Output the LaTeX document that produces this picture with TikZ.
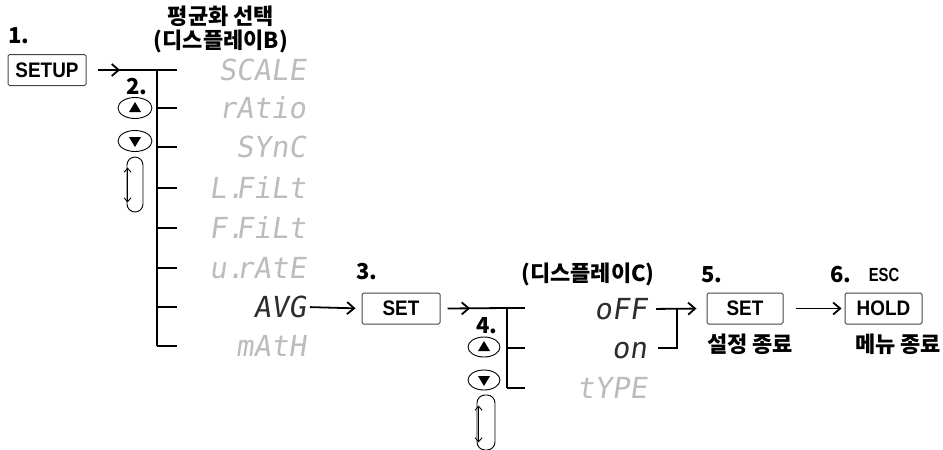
\documentclass[tikz,border=0pt]{standalone}
\usepackage{fontspec}
\usetikzlibrary{arrows.meta,shapes.geometric,decorations.markings}
\newfontfamily\krfont{Noto Sans CJK KR}
\newfontfamily\boxfont{Liberation Sans}[FakeStretch=0.9]
\newfontfamily\escfont{Liberation Sans}[FakeStretch=0.78]
\newfontfamily\segfont{DejaVu Sans Mono}[FakeSlant=0.15]
\definecolor{segdim}{RGB}{188,188,188}
\definecolor{segdark}{RGB}{45,45,45}
\definecolor{boxline}{RGB}{70,70,70}
\tikzset{
  keybox/.style={draw=boxline, rounded corners=1.5pt, line width=1pt, minimum height=31pt,
    inner sep=0pt, font=\boxfont\bfseries\fontsize{21}{21}\selectfont},
  steplbl/.style={font=\krfont\bfseries\fontsize{22}{22}\selectfont, inner sep=0pt},
  krlbl/.style={font=\krfont\bfseries\fontsize{22}{24}\selectfont, inner sep=0pt, align=center},
  seg/.style={font=\segfont\fontsize{29}{29}\selectfont, anchor=east, inner sep=0pt,
    text height=21pt, text depth=0pt, text=segdim},
  segon/.style={seg, text=segdark},
  trunk/.style={line width=2.5pt},
  twig/.style={line width=1.1pt},
  flowline/.style={line width=1.8pt},
  tipA/.style={-{Straight Barb[length=7pt,width=12pt]}},
  midtip/.style={postaction={decorate}, decoration={markings,
      mark=at position #1 with {\arrow{Straight Barb[length=7pt,width=12pt]}}}},
  btn/.style={draw, ellipse, line width=0.9pt, minimum width=34pt, minimum height=21pt, inner sep=0pt},
  ovalkey/.style={draw, rounded corners=8pt, line width=0.9pt, minimum width=16pt, minimum height=55pt, inner sep=0pt},
  dbl/.style={line width=0.9pt, {Straight Barb[length=4pt,width=7pt]}-{Straight Barb[length=4pt,width=7pt]}},
}
\begin{document}
\begin{tikzpicture}[x=1pt,y=-1pt]
\useasboundingbox (0,0) rectangle (943,450);

% ---------- title ----------
\node[krlbl] (title) at (221,29) {평균화 선택\\(디스플레이B)};

% ---------- step 1 ----------
\node[steplbl] (s1) at (19,36) {1.};
\node[keybox, minimum width=78pt] (setup) at (47,70) {SETUP};

% trunk 1 coordinates
\coordinate (j1) at (157,70);
\coordinate (tRatio) at (157,108);
\coordinate (tSync) at (157,147);
\coordinate (tLf) at (157,188);
\coordinate (tFf) at (157,228);
\coordinate (tUr) at (157,268);
\coordinate (tAvg) at (157,307);
\coordinate (tMath) at (157,346);

\draw[flowline, midtip=0.38] ([xshift=11pt]setup.east) -- (j1);
\draw[trunk] (j1) -- (tAvg);
\draw[twig] (tAvg) -- (tMath);

\foreach \t in {j1,tRatio,tSync,tLf,tFf,tUr,tMath}{
  \draw[twig] (\t) -- ++(20,0) coordinate (\t e);
}
\draw[trunk] (tAvg) -- ++(20,0) coordinate (tAvge);

% labels (display B)
\node[seg] (lScale) at (306,70) {SCALE};
\node[seg] (lRatio) at (306,108) {rAtio};
\node[seg] (lSync) at (306,147) {SYnC};
\node[seg] (lLf) at (306,188) {L.\hspace{-0.28em}FiLt};
\node[seg] (lFf) at (306,228) {F.\hspace{-0.28em}FiLt};
\node[seg] (lUr) at (306,268) {u.\hspace{-0.28em}rAtE};
\node[segon] (lAvg) at (306,307) {AVG};
\node[seg] (lMath) at (306,346) {mAtH};

% step 2 keys
\node[steplbl] (s2) at (137,87) {2.};
\node[btn] (up1) at (135,108) {};
\fill (up1.center) +(0,-6) -- +(-6,4) -- +(6,4) -- cycle;
\node[btn] (dn1) at (135,141) {};
\fill (dn1.center) +(0,6) -- +(-6,-4) -- +(6,-4) -- cycle;
\node[ovalkey] (ov1) at (135,184.5) {};
\draw[dbl] ([shift={(1,11)}]ov1.north west) -- ([shift={(1,-10)}]ov1.south west);

% ---------- step 3 ----------
\node[steplbl] (s3) at (367,272) {3.};
\node[keybox, minimum width=78pt] (set3) at (401,308.5) {SET};
\draw[flowline, tipA, shorten <=4pt, shorten >=6pt] (lAvg.east) -- (set3.west);

\coordinate (j2) at (507,308);
\coordinate (tOn) at (507,348);
\coordinate (tType) at (507,388);
\draw[flowline, midtip=0.38] ([xshift=7pt]set3.east) -- (j2);
\draw[trunk] (j2) -- ++(18,0) coordinate (j2e);
\draw[trunk] (j2) -- (tOn);
\draw[twig] (tOn) -- (tType);
\draw[trunk] (tOn) -- ++(18,0) coordinate (tOne);
\draw[twig] (tType) -- ++(18,0) coordinate (tTypee);

% step 4 keys
\node[steplbl] (s4) at (487,326) {4.};
\node[btn, minimum width=32pt, minimum height=20pt] (up2) at (484,347) {};
\fill (up2.center) +(0,-6) -- +(-6,4) -- +(6,4) -- cycle;
\node[btn, minimum width=32pt, minimum height=20pt] (dn2) at (484,380) {};
\fill (dn2.center) +(0,6) -- +(-6,-4) -- +(6,-4) -- cycle;
\node[ovalkey, minimum width=18pt] (ov2) at (486,422.5) {};
\draw[dbl] ([shift={(2,11)}]ov2.north west) -- ([shift={(2,-8)}]ov2.south west);

% display C
\node[krlbl] (titleC) at (588,274) {(디스플레이C)};
\node[segon] (lOff) at (647,309) {oFF};
\node[segon] (lOn) at (647,348) {on};
\node[seg] (lType) at (647,388) {tYPE};

% ---------- step 5 ----------
\node[steplbl] (s5) at (712,275) {5.};
\node[keybox, minimum width=76pt] (set5) at (745,308.5) {SET};
\node[krlbl] (end5) at (750,344) {설정 종료};

\coordinate (jOn) at (677,309);
\coordinate (kOn) at (677,348);
\draw[flowline, tipA, shorten <=9pt, shorten >=10pt] (lOff.east) -- (set5.west);
\draw[flowline] ([xshift=11pt]lOn.east) -- (kOn) -- (jOn);

% ---------- step 6 ----------
\node[steplbl] (s6) at (841,275) {6.};
\node[font=\escfont\bfseries\fontsize{19}{19}\selectfont, inner sep=0pt] (esc) at (884,275) {ESC};
\node[keybox, minimum width=77pt] (hold) at (883.5,308.5) {HOLD};
\node[krlbl] (end6) at (898,344) {메뉴 종료};
\draw[flowline, tipA, shorten <=12pt, shorten >=3pt] (set5.east) -- (hold.west);

\end{tikzpicture}
\end{document}
